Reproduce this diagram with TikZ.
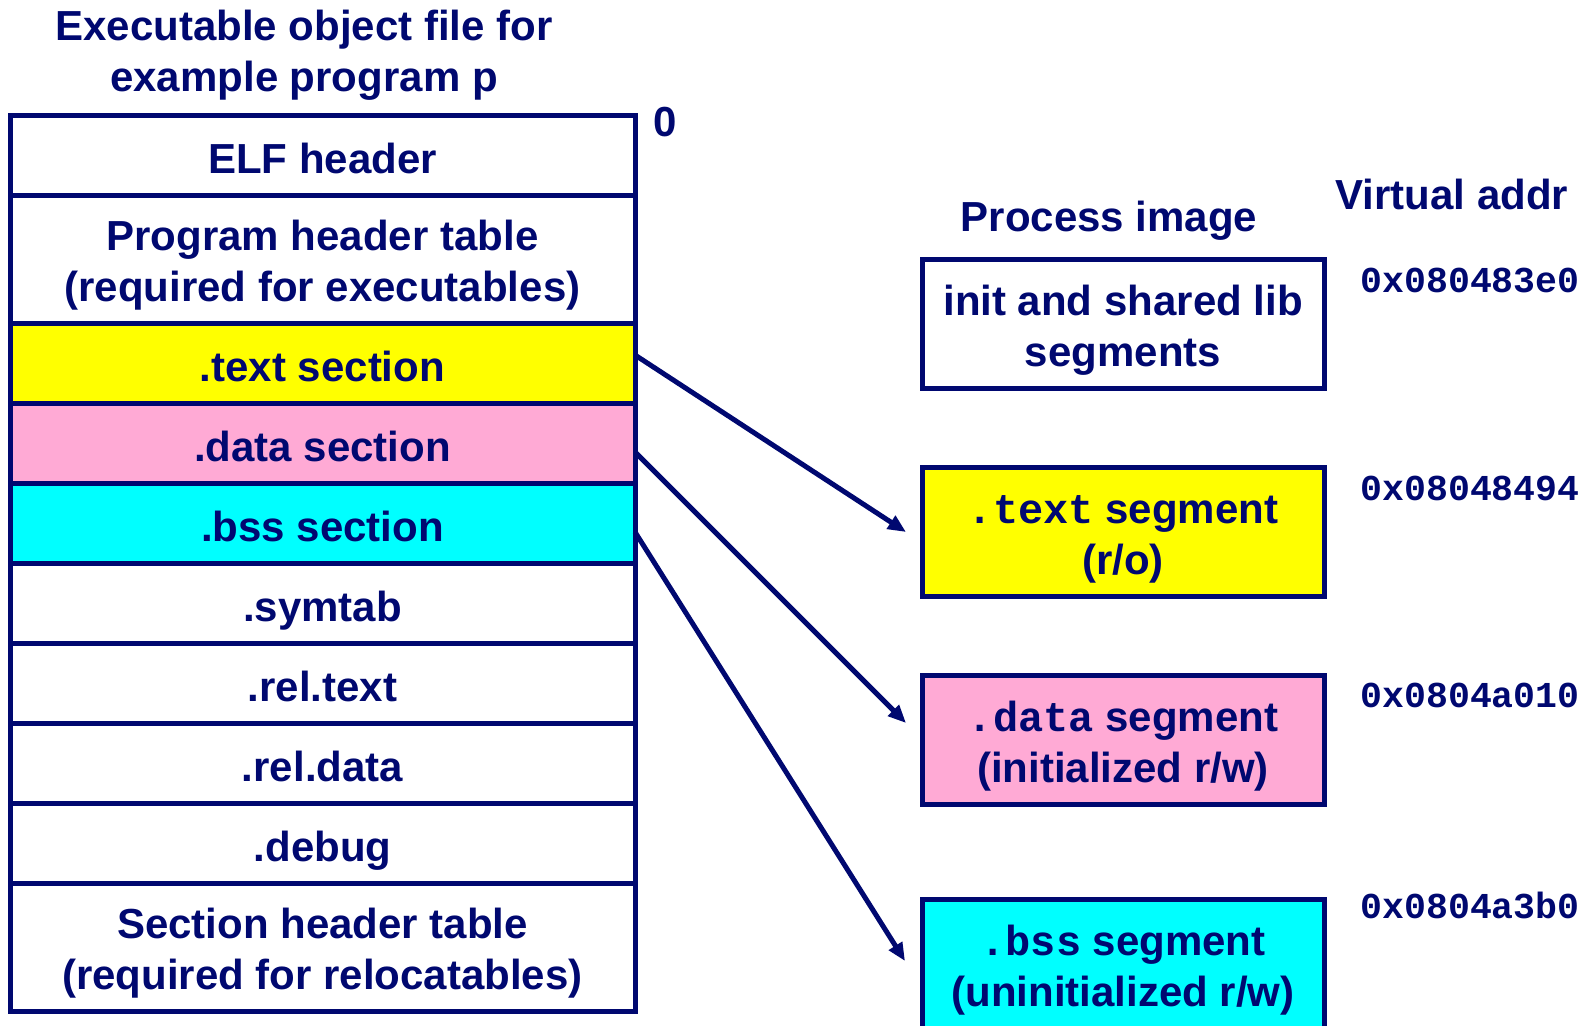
\documentclass[tikz,border=0pt]{standalone}
\usepackage{fontspec}
\setmainfont{Liberation Sans}
\setmonofont{Liberation Mono}
\usetikzlibrary{arrows.meta}
\definecolor{navy}{RGB}{0,8,112}
\definecolor{pinkseg}{RGB}{255,170,213}
\definecolor{yellowseg}{RGB}{255,255,0}
\definecolor{cyanseg}{RGB}{0,255,255}
\newcommand{\lbl}{\fontsize{21}{25.5}\selectfont\bfseries}
\newcommand{\addrfont}{\fontsize{18.25}{22}\selectfont\ttfamily\bfseries}
\newcommand{\seg}[1]{{\fontsize{21}{25.5}\selectfont\ttfamily\bfseries #1}}
\newcommand{\rowstrut}{\rule{0pt}{21.3pt}}
\newcommand{\segstrut}{\rule{0pt}{22.3pt}}
\begin{document}
\begin{tikzpicture}[x=0.5pt, y=-0.5pt, line width=2.5pt, navy,
    every node/.style={text=navy, font=\lbl},
    secbox/.style={draw=navy, minimum width=312.5pt, inner sep=0pt, outer sep=0pt, align=center},
    secrow/.style={secbox, minimum height=40pt, text height=18.3pt, text depth=0pt},
    secdouble/.style={secbox, minimum height=64pt},
    segbox/.style={draw=navy, minimum width=201pt, minimum height=64.5pt, inner sep=0pt, outer sep=0pt, align=center},
    vaddr/.style={anchor=west, inner sep=0pt, font=\addrfont},
    maparrow/.style={-{Triangle[length=9pt,width=7.5pt]}}]
    \useasboundingbox (0,0) rectangle (1589,1025);
    % object file
    \node[align=center] (title) at (304,55.5) {Executable object file for\\example program p};
    \node[secrow] (elf) at (322.5,155) {ELF header};
    \node[secdouble] (phdr) at (322.5,259) {\rowstrut Program header table\\(required for executables)};
    \node[secrow, fill=yellowseg] (txt) at (322.5,363) {.text section};
    \node[secrow, fill=pinkseg] (dat) at (322.5,443) {.data section};
    \node[secrow, fill=cyanseg] (bss) at (322.5,523) {.bss section};
    \node[secrow] (sym) at (322.5,603) {.symtab};
    \node[secrow] (reltxt) at (322.5,683) {.rel.text};
    \node[secrow] (reldat) at (322.5,763) {.rel.data};
    \node[secrow] (dbg) at (322.5,843) {.debug};
    \node[secdouble] (shdr) at (322.5,947) {\rowstrut Section header table\\(required for relocatables)};
    \node (zero) at (665,122) {0};
    % process image
    \node (proc) at (1109,221) {Process image};
    \node (vhead) at (1452,194) {Virtual addr};
    \node[segbox] (initseg) at (1123,323.5) {\segstrut init and shared lib\\segments};
    \node[segbox, fill=yellowseg] (txtseg) at (1123,531.5) {\segstrut\seg{.text} segment\\(r/o)};
    \node[segbox, fill=pinkseg] (datseg) at (1123,739.5) {\segstrut\seg{.data} segment\\(initialized r/w)};
    \node[segbox, fill=cyanseg] (bssseg) at (1123,963.5) {\segstrut\seg{.bss} segment\\(uninitialized r/w)};
    \node[vaddr] (addrinit) at (1358,280) {0x080483e0};
    \node[vaddr] (addrtxt) at (1358,488) {0x08048494};
    \node[vaddr] (addrdat) at (1358,695) {0x0804a010};
    \node[vaddr] (addrbss) at (1358,905) {0x0804a3b0};
    % mapping
    \coordinate (txtend) at (906,532);
    \coordinate (datend) at (906,723);
    \coordinate (bssend) at (905,961);
    \draw[maparrow] ([yshift=4pt]txt.east) -- (txtend);
    \draw[maparrow] ([yshift=-4.5pt]dat.east) -- (datend);
    \draw[maparrow] ([yshift=-4.5pt]bss.east) -- (bssend);
\end{tikzpicture}
\end{document}
